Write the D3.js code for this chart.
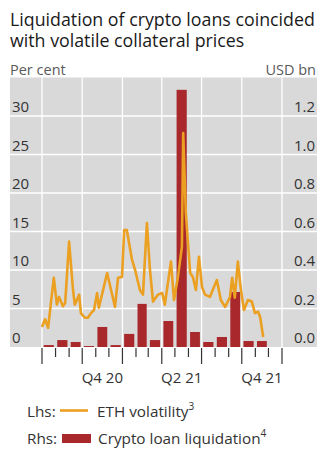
<!DOCTYPE html>
<html><head><meta charset="utf-8">
<script src="https://cdn.jsdelivr.net/npm/d3@7"></script>
<style>
html,body{margin:0;padding:0;background:#fff;}
svg{display:block;font-family:"Open Sans","Noto Sans",sans-serif;}
</style></head>
<body><svg id="c" width="325" height="459"></svg>
<script>
// ---- data ----
const barMonths = ["2020-07","2020-08","2020-09","2020-10","2020-11","2020-12","2021-01","2021-02","2021-03","2021-04","2021-05","2021-06","2021-07","2021-08","2021-09","2021-10","2021-11"];
const liquidation = [0.01,0.036,0.026,0.005,0.104,0.01,0.068,0.224,0.036,0.135,1.336,0.078,0.026,0.052,0.286,0.031,0.031];
const volDates = ["2020-07-01","2020-07-08","2020-07-15","2020-07-28","2020-08-04","2020-08-09","2020-08-18","2020-08-23","2020-09-01","2020-09-10","2020-09-14","2020-09-24","2020-09-28","2020-10-07","2020-10-14","2020-10-21","2020-10-28","2020-11-04","2020-11-08","2020-11-27","2020-12-15","2020-12-22","2020-12-31","2021-01-05","2021-01-11","2021-01-23","2021-01-30","2021-02-10","2021-02-17","2021-02-26","2021-03-05","2021-03-12","2021-03-23","2021-04-02","2021-04-08","2021-04-22","2021-04-29","2021-05-08","2021-05-17","2021-05-20","2021-05-26","2021-06-05","2021-06-11","2021-06-18","2021-06-25","2021-07-02","2021-07-09","2021-07-20","2021-08-05","2021-08-14","2021-08-24","2021-09-04","2021-09-09","2021-09-15","2021-09-22","2021-09-29","2021-10-06","2021-10-15","2021-10-24","2021-10-31","2021-11-07","2021-11-12","2021-11-19"];
const ethVol = [2.6,3.6,2.5,9.0,5.5,6.5,5.3,5.7,13.7,7.4,5.5,6.8,4.4,3.8,3.8,4.4,4.8,7.0,5.1,9.6,5.2,9.0,9.1,15.2,15.2,11.3,10.0,7.4,6.8,16.1,10.0,5.9,6.8,7.0,5.5,11.1,6.1,9.1,13.0,27.8,17.4,9.6,9.1,7.4,11.7,7.8,6.8,6.5,8.7,6.1,5.2,6.5,9.0,6.4,11.1,7.4,4.8,6.1,5.9,4.4,4.6,3.9,1.3];
const leftTicks = [0,5,10,15,20,25,30];
const rightTicks = [0.0,0.2,0.4,0.6,0.8,1.0,1.2];
const quarterLabels = [{q:"2020-10-01",label:"Q4 20"},{q:"2021-04-01",label:"Q2 21"},{q:"2021-10-01",label:"Q4 21"}];

// ---- layout ----
const svg = d3.select("#c");
const P = {left:10, right:317, top:77.5, bottom:347};
const parse = d3.timeParse("%Y-%m-%d");
const x = d3.scaleTime().domain([parse("2020-07-01"), parse("2022-01-01")]).range([42,282]);
const yL = d3.scaleLinear().domain([0,35]).range([P.bottom,P.top]);
const yR = d3.scaleLinear().domain([0,1.4]).range([P.bottom,P.top]);
const txt = "#333333";

// title
svg.append("text").attr("x",10).attr("y",25.5).attr("fill","#1a1a1a").style("font-size","17.8px").text("Liquidation of crypto loans coincided");
svg.append("text").attr("x",10).attr("y",46.5).attr("fill","#1a1a1a").style("font-size","17.8px").text("with volatile collateral prices");

svg.append("text").attr("x",10).attr("y",75).attr("fill","#5a5a5a").style("font-size","14.5px").text("Per cent");
svg.append("text").attr("x",316).attr("y",75).attr("text-anchor","end").attr("fill","#5a5a5a").style("font-size","14.5px").text("USD bn");

// background
svg.append("rect").attr("x",P.left).attr("y",P.top).attr("width",P.right-P.left).attr("height",P.bottom-P.top).attr("fill","#d9d9d9");

// grid
const g = svg.append("g");
g.selectAll("line.h").data(leftTicks.filter(d=>d>0)).join("line")
  .attr("x1",P.left).attr("x2",P.right).attr("y1",d=>yL(d)).attr("y2",d=>yL(d))
  .attr("stroke","#fff").attr("stroke-width",1.3);
const qTicks = d3.timeMonth.every(3).range(parse("2020-07-01"), parse("2022-01-02"));
g.selectAll("line.v").data(qTicks).join("line")
  .attr("x1",d=>x(d)).attr("x2",d=>x(d)).attr("y1",P.top).attr("y2",P.bottom)
  .attr("stroke","#fff").attr("stroke-width",1.3);

// axis labels
svg.selectAll("text.l").data(leftTicks).join("text")
  .attr("x",12).attr("y",d=>yL(d)-4).attr("fill",txt).style("font-size","15px").text(d=>d);
svg.selectAll("text.r").data(rightTicks).join("text")
  .attr("x",315).attr("y",d=>yR(d)-4).attr("text-anchor","end").attr("fill",txt).style("font-size","15px").text(d=>d.toFixed(1));

// bars
const mParse = d3.timeParse("%Y-%m");
svg.append("g").selectAll("rect").data(barMonths.map((m,i)=>({d:mParse(m),v:liquidation[i]}))).join("rect")
  .attr("x",d=>{const a=x(d.d), b=x(d3.timeMonth.offset(d.d,1)); return a+(b-a)*0.125;})
  .attr("width",d=>{const a=x(d.d), b=x(d3.timeMonth.offset(d.d,1)); return (b-a)*0.75;})
  .attr("y",d=>yR(d.v)).attr("height",d=>yR(0)-yR(d.v))
  .attr("fill","#a8282c");

// line
const lineData = volDates.map((d,i)=>({d:parse(d),v:ethVol[i]}));
svg.append("path").datum(lineData)
  .attr("d",d3.line().x(d=>x(d.d)).y(d=>yL(d.v)))
  .attr("fill","none").attr("stroke","#eba021").attr("stroke-width",2.6).attr("stroke-linejoin","round");

// x axis ticks
const mTicks = d3.timeMonth.range(parse("2020-07-01"), parse("2022-01-02"));
svg.append("g").selectAll("line").data(mTicks).join("line")
  .attr("x1",d=>x(d)).attr("x2",d=>x(d)).attr("y1",P.bottom+1)
  .attr("y2",d=>d.getMonth()%3===0? P.bottom+17 : P.bottom+10)
  .attr("stroke","#333").attr("stroke-width",1.2);
svg.selectAll("text.q").data(quarterLabels).join("text")
  .attr("x",d=>{const a=parse(d.q); return (x(a)+x(d3.timeMonth.offset(a,3)))/2;})
  .attr("y",383).attr("text-anchor","middle").attr("fill",txt).style("font-size","15px").text(d=>d.label);

// legend
const lg = svg.append("g").style("font-size","15.3px").attr("fill",txt);
lg.append("text").attr("x",27).attr("y",417).text("Lhs:");
lg.append("line").attr("x1",60).attr("x2",88).attr("y1",410.5).attr("y2",410.5).attr("stroke","#eba021").attr("stroke-width",2.6);
const t1 = lg.append("text").attr("x",97).attr("y",417);
t1.append("tspan").text("ETH volatility");
t1.append("tspan").attr("dy",-7).style("font-size","10px").text("3");
lg.append("text").attr("x",27).attr("y",444).text("Rhs:");
lg.append("rect").attr("x",62).attr("y",434).attr("width",29).attr("height",9).attr("fill","#a8282c");
const t2 = lg.append("text").attr("x",98).attr("y",444);
t2.append("tspan").text("Crypto loan liquidation");
t2.append("tspan").attr("dy",-7).style("font-size","10px").text("4");
</script></body></html>
